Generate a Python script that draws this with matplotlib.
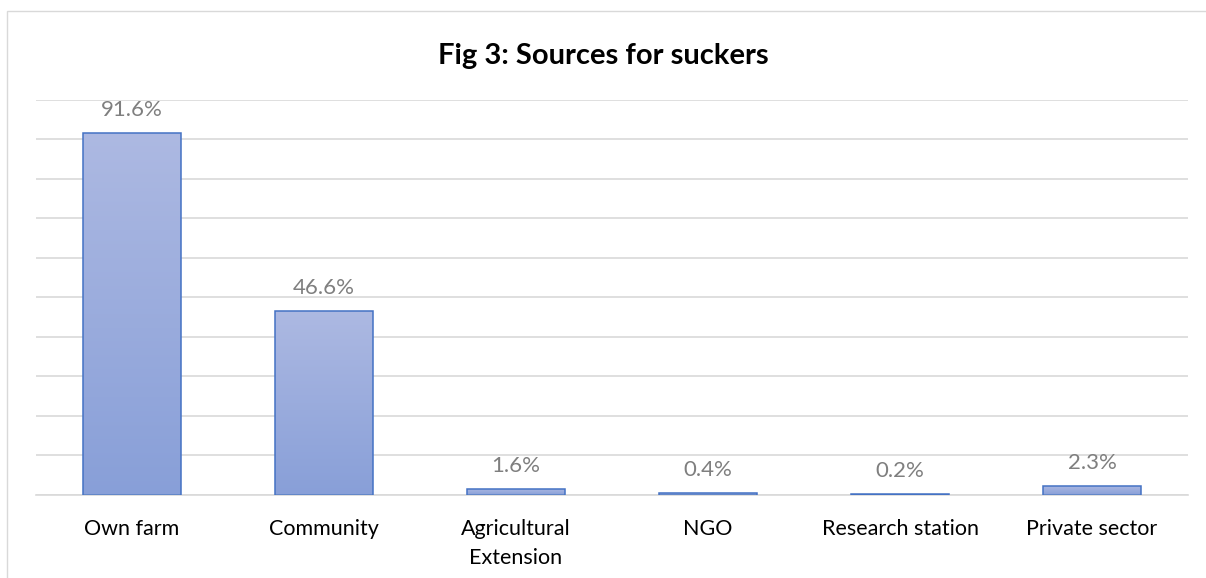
import numpy as np
import matplotlib
matplotlib.use("Agg")
import matplotlib.pyplot as plt
from matplotlib.patches import Rectangle

# ------------------------------------------------------------------
#  DATA
# ------------------------------------------------------------------
categories = ["Own farm", "Community", "Agricultural\nExtension", "NGO",
              "Research station", "Private sector"]
values = [91.6, 46.6, 1.6, 0.4, 0.2, 2.3]
value_labels = ["91.6%", "46.6%", "1.6%", "0.4%", "0.2%", "2.3%"]
title = "Fig 3: Sources for suckers"

# ------------------------------------------------------------------
#  STYLE
# ------------------------------------------------------------------
plt.rcParams['font.family'] = ['Lato', 'DejaVu Sans']
grid_color = '#d9d9d9'
edge_color = '#4472c4'
top_color = np.array([0xad, 0xb9, 0xe2]) / 255.0
bot_color = np.array([0x88, 0x9f, 0xd8]) / 255.0

fig = plt.figure(figsize=(12.06, 5.78), dpi=100)

# chart frame (cut off at right and bottom like the original)
frame = Rectangle((7 / 1206, -0.05), 1.05, 0.981 + 0.05, transform=fig.transFigure,
                  fill=False, edgecolor=grid_color, linewidth=1.0)
fig.patches.append(frame)

ax = fig.add_axes([36 / 1206, 1 - 495 / 578, (1188 - 36) / 1206, (495 - 99.5) / 578])

x = np.arange(len(categories))
bars = ax.bar(x, values, width=0.51, color='none', edgecolor=edge_color,
              linewidth=1.1, zorder=3)

# vertical gradient in each bar
grad = np.linspace(0, 1, 256)[:, None, None]
img = bot_color[None, None, :] * (1 - grad) + top_color[None, None, :] * grad
for b in bars:
    x0, w, h = b.get_x(), b.get_width(), b.get_height()
    im = ax.imshow(img, extent=[x0, x0 + w, 0, h], origin='lower',
                   aspect='auto', zorder=2)
    im.set_clip_path(b)

for xi, v, lab in zip(x, values, value_labels):
    ax.text(xi, v + 3.3, lab, ha='center', va='bottom', fontsize=16,
            color='#7f7f7f', zorder=4)

ax.set_xlim(-0.5, len(categories) - 0.5)
ax.set_ylim(0, 100)
ax.set_yticks(np.arange(0, 101, 10))
ax.yaxis.grid(True, color=grid_color, linewidth=1.2, zorder=0)
ax.set_axisbelow(True)
ax.tick_params(axis='y', left=False, labelleft=False)
ax.tick_params(axis='x', length=0, pad=17.5, labelsize=15.5, labelcolor='black')
ax.set_xticks(x)
ax.set_xticklabels(categories, linespacing=1.55)
for s in ['top', 'right', 'left']:
    ax.spines[s].set_visible(False)
ax.spines['bottom'].set_color(grid_color)
ax.spines['bottom'].set_linewidth(1.2)

fig.text(0.5, 1 - 56 / 578, title, ha='center', va='center', fontsize=21,
         fontweight='bold', color='black')

fig.savefig("out.png", dpi=100)
